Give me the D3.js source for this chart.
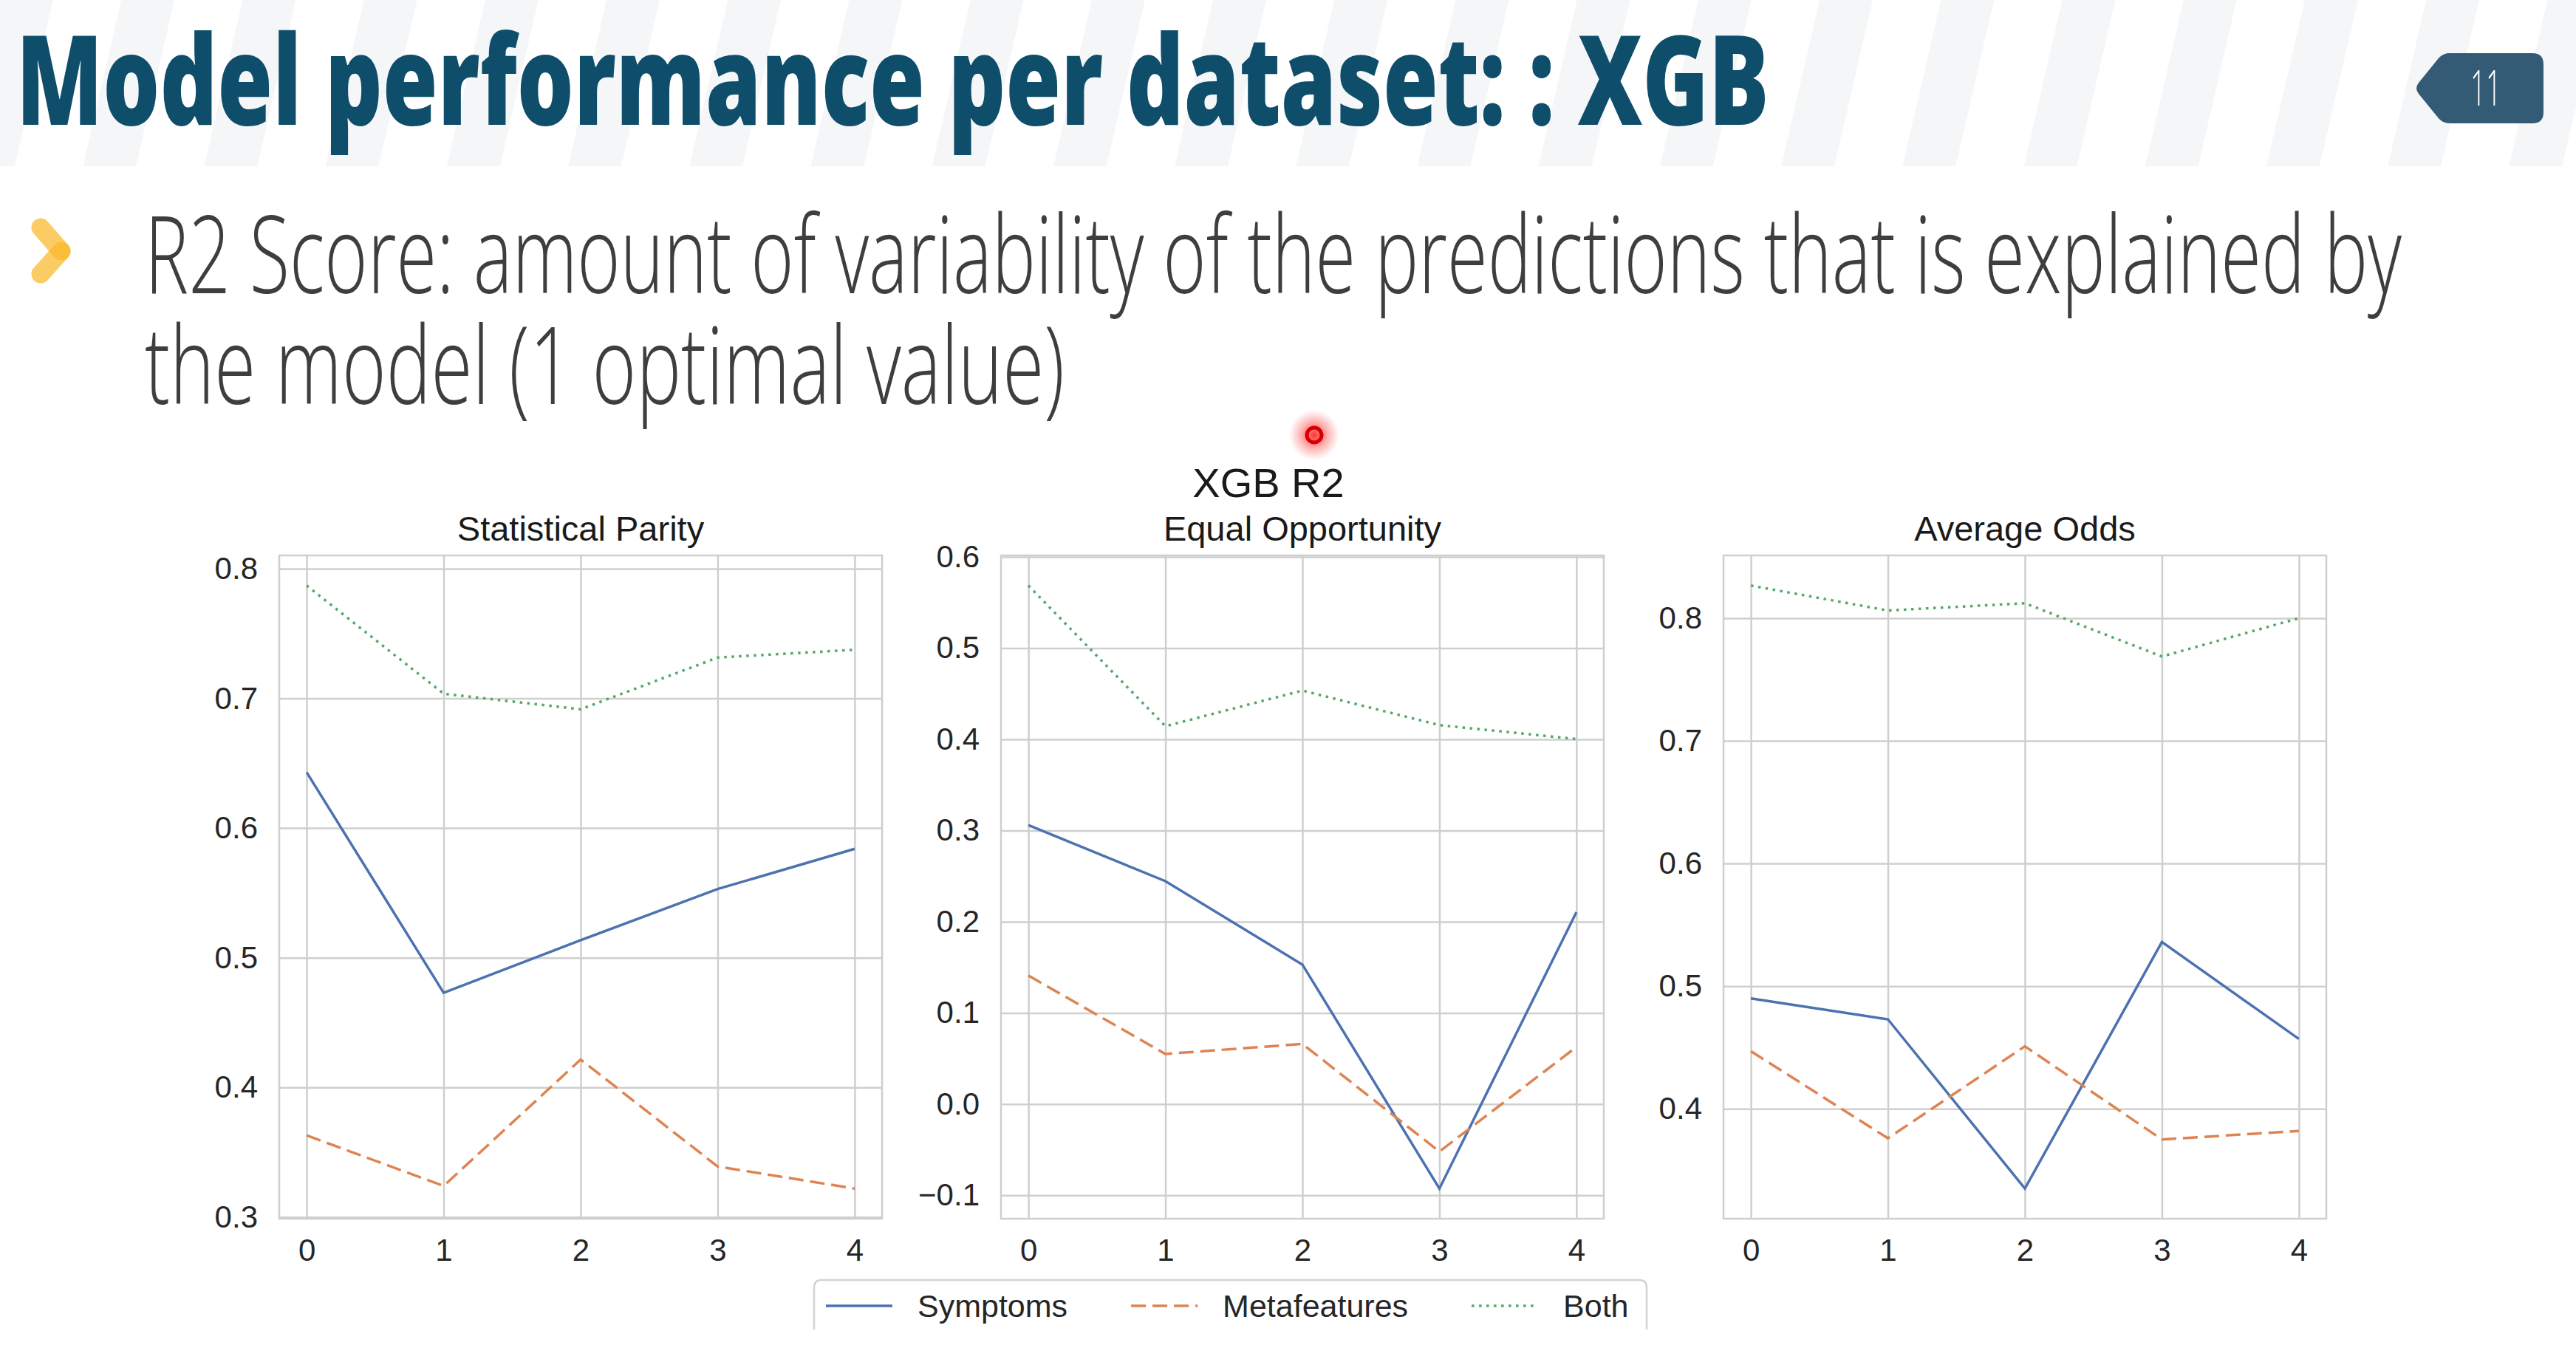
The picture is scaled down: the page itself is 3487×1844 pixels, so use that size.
<!DOCTYPE html>
<html>
<head>
<meta charset="utf-8">
<script src="https://cdn.jsdelivr.net/npm/d3@7"></script>
<style>
  body { margin: 0; background: #fff; }
  svg { display: block; }
</style>
</head>
<body>
<div id="slide"></div>
<script>
// values
const xTicks = [0, 1, 2, 3, 4];
const seriesNames = ["Symptoms", "Metafeatures", "Both"];
const panelTitles = ["Statistical Parity", "Equal Opportunity", "Average Odds"];
const symptoms = [
  [0.643, 0.473, 0.5135, 0.553, 0.584],
  [0.306, 0.2445, 0.153, -0.0926, 0.2105],
  [0.490, 0.473, 0.335, 0.536, 0.457]
];
const metafeatures = [
  [0.363, 0.324, 0.4215, 0.339, 0.322],
  [0.141, 0.055, 0.066, -0.052, 0.0626],
  [0.447, 0.376, 0.451, 0.375, 0.382]
];
const both = [
  [0.787, 0.7036, 0.6916, 0.7315, 0.7375],
  [0.5686, 0.4144, 0.4535, 0.4156, 0.4003],
  [0.8266, 0.8063, 0.8122, 0.7688, 0.800]
];
const yTicks = [
  [0.3, 0.4, 0.5, 0.6, 0.7, 0.8],
  [-0.1, 0.0, 0.1, 0.2, 0.3, 0.4, 0.5, 0.6],
  [0.4, 0.5, 0.6, 0.7, 0.8]
];

let conf = {
  width: 3487,
  height: 1844,
  panelLefts: [378, 1355, 2333],
  panelTop: 752,
  panelW: 816,
  panelH: 898,
  colors: ["#4c72b0", "#dd8452", "#55a868"],
  dashes: [null, "20,9", "3.5,6.5"],
  grid: "#cfcfcf",
  text: "#262626",
  font: "'Liberation Sans', Arial, sans-serif",
  slideFont: "'Open Sans', 'Noto Sans', sans-serif"
};

const svg = d3.select("#slide").append("svg")
  .attr("width", conf.width)
  .attr("height", conf.height);

// squeeze a text horizontally to a given width (condensed look)
function condensed(parent, str, x, y, width, size, weight, color, anchor) {
  const t = parent.append("text")
    .style("font-family", conf.slideFont)
    .style("font-weight", weight)
    .style("font-size", size + "px")
    .attr("fill", color)
    .text(str);
  const w = t.node().getComputedTextLength();
  const s = width / w;
  const x0 = anchor === "middle" ? x - width / 2 : x;
  t.attr("transform", `translate(${x0},${y}) scale(${s},1)`);
  return t;
}

// header stripes
const defs = svg.append("defs");
const pat = defs.append("pattern")
  .attr("id", "stripes")
  .attr("width", 160).attr("height", 400)
  .attr("patternUnits", "userSpaceOnUse")
  .attr("patternTransform", "rotate(13)");
pat.append("rect").attr("width", 160).attr("height", 400).attr("fill", "#ffffff");
pat.append("rect").attr("width", 70).attr("height", 400).attr("fill", "#f5f6f7");

svg.append("rect").attr("width", conf.width).attr("height", 225).attr("fill", "url(#stripes)");

// title
condensed(svg, "Model performance per dataset: : XGB", 22, 169, 2373, 168, 800, "#0e4e6b");

// page badge
svg.append("path")
  .attr("d", "M3274,112 L3300,80 Q3306,72 3316,72 L3428,72 Q3443,72 3443,87 L3443,152 Q3443,167 3428,167 L3316,167 Q3306,167 3300,159 L3274,127 Q3268,120 3274,112 Z")
  .attr("fill", "#345b76");
condensed(svg, "11", 3365, 143, 42, 67, 300, "#ffffff", "middle");

// bullet chevron: two overlapping translucent capsules
const chev = svg.append("g")
  .attr("stroke", "#fbb928").attr("stroke-opacity", 0.72)
  .attr("stroke-width", 25).attr("stroke-linecap", "round");
chev.append("line").attr("x1", 55).attr("y1", 308).attr("x2", 83).attr("y2", 340);
chev.append("line").attr("x1", 83).attr("y1", 340).attr("x2", 55).attr("y2", 371);

// subtitle lines
condensed(svg, "R2 Score: amount of variability of the predictions that is explained by", 196, 397, 3055, 146, 300, "#3e3e3e");
condensed(svg, "the model (1 optimal value)", 196, 547, 1245, 146, 300, "#3e3e3e");

// pointer dot
const rg = defs.append("radialGradient").attr("id", "glow");
rg.append("stop").attr("offset", "0%").attr("stop-color", "#ff2020").attr("stop-opacity", 0.9);
rg.append("stop").attr("offset", "55%").attr("stop-color", "#ff3030").attr("stop-opacity", 0.35);
rg.append("stop").attr("offset", "100%").attr("stop-color", "#ff4040").attr("stop-opacity", 0);
svg.append("circle").attr("cx", 1779).attr("cy", 589).attr("r", 34).attr("fill", "url(#glow)");
svg.append("circle").attr("cx", 1779).attr("cy", 589).attr("r", 10).attr("fill", "none")
  .attr("stroke", "#d40000").attr("stroke-width", 5);

// suptitle
svg.append("text")
  .attr("x", 1717).attr("y", 673)
  .attr("text-anchor", "middle")
  .style("font-family", conf.font)
  .style("font-size", "56px")
  .attr("fill", "#1a1a1a")
  .text("XGB R2");

const allSeries = [symptoms, metafeatures, both];

panelTitles.forEach((title, p) => {
  const g = svg.append("g")
    .attr("transform", `translate(${conf.panelLefts[p]},${conf.panelTop})`);

  const vals = allSeries.flatMap(s => s[p]);
  const [lo, hi] = d3.extent(vals);
  const pad = (hi - lo) * 0.05;

  const x = d3.scaleLinear().domain([-0.2, 4.2]).range([0, conf.panelW]);
  const y = d3.scaleLinear().domain([lo - pad, hi + pad]).range([conf.panelH, 0]);

  // frame
  g.append("rect")
    .attr("width", conf.panelW).attr("height", conf.panelH)
    .attr("fill", "#fff")
    .attr("stroke", conf.grid).attr("stroke-width", 2.5);

  // y axis with grid
  const ya = g.append("g")
    .call(d3.axisLeft(y).tickValues(yTicks[p]).tickFormat(d3.format(".1f"))
      .tickSize(-conf.panelW).tickPadding(29));
  // x axis with grid
  const xa = g.append("g")
    .attr("transform", `translate(0,${conf.panelH})`)
    .call(d3.axisBottom(x).tickValues(xTicks).tickFormat(d3.format("d"))
      .tickSize(-conf.panelH).tickPadding(27));

  [ya, xa].forEach(a => {
    a.select(".domain").remove();
    a.selectAll(".tick line").attr("stroke", conf.grid).attr("stroke-width", 2.5);
    a.selectAll(".tick text")
      .attr("fill", conf.text)
      .style("font-family", conf.font)
      .style("font-size", "42px");
  });

  // lines
  allSeries.forEach((s, i) => {
    g.append("path")
      .datum(s[p])
      .attr("fill", "none")
      .attr("stroke", conf.colors[i])
      .attr("stroke-width", 3.5)
      .attr("stroke-dasharray", conf.dashes[i])
      .attr("d", d3.line().x((d, k) => x(xTicks[k])).y(d => y(d)));
  });

  // panel title
  g.append("text")
    .attr("x", conf.panelW / 2).attr("y", -20)
    .attr("text-anchor", "middle")
    .style("font-family", conf.font)
    .style("font-size", "47px")
    .attr("fill", "#1a1a1a")
    .text(title);
});

// legend
const lg = svg.append("g");
lg.append("path")
  .attr("d", "M1102,1800 L1102,1743 Q1102,1733 1112,1733 L2219,1733 Q2229,1733 2229,1743 L2229,1800")
  .attr("fill", "#fff")
  .attr("stroke", "#d3d3d3").attr("stroke-width", 2.5);

let lx = 1118;
const ly = 1768;
seriesNames.forEach((name, i) => {
  lg.append("line")
    .attr("x1", lx).attr("x2", lx + 90)
    .attr("y1", ly).attr("y2", ly)
    .attr("stroke", conf.colors[i])
    .attr("stroke-width", 3.5)
    .attr("stroke-dasharray", conf.dashes[i]);
  const t = lg.append("text")
    .attr("x", lx + 124).attr("y", ly)
    .attr("dominant-baseline", "central")
    .style("font-family", conf.font)
    .style("font-size", "43px")
    .attr("fill", conf.text)
    .text(name);
  lx += 124 + t.node().getComputedTextLength() + 86;
});
</script>
</body>
</html>
